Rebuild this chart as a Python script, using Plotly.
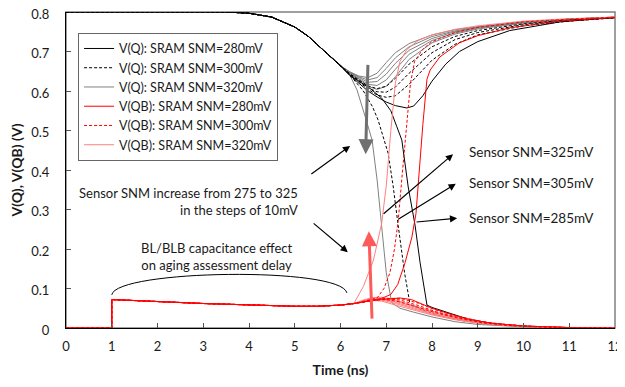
import plotly.graph_objects as go

# ---------------- data ----------------
# shared start of every V(Q) curve
Q_T_START = [0, 3.5, 4.0, 4.5, 5.0, 5.3, 5.6, 5.9, 6.0]
Q_V_START = [0.8, 0.8, 0.797, 0.787, 0.762, 0.738, 0.706, 0.675, 0.664]
# shared start of every V(QB) curve
QB_T_START = [0, 1.0, 1.0, 1.5, 2.0, 3.0, 4.0, 5.0, 5.5, 6.0, 6.3]
QB_V_START = [0, 0, 0.072, 0.070, 0.067, 0.062, 0.058, 0.055, 0.055, 0.058, 0.062]

# V(Q) recovering curves (no flip)
REC_T = [6.2, 6.4, 6.6, 6.8, 7.0, 7.2, 7.5, 8.0, 8.5, 9.0, 10, 11, 12]
Q320_REC = [
    [0.649, 0.638, 0.634, 0.645, 0.672, 0.697, 0.720, 0.742, 0.755, 0.763, 0.775, 0.782, 0.787],
    [0.648, 0.636, 0.628, 0.634, 0.657, 0.684, 0.712, 0.738, 0.752, 0.762, 0.775, 0.782, 0.787],
    [0.647, 0.634, 0.622, 0.624, 0.643, 0.670, 0.703, 0.733, 0.750, 0.761, 0.774, 0.782, 0.787],
    [0.646, 0.632, 0.617, 0.614, 0.628, 0.655, 0.693, 0.728, 0.747, 0.759, 0.773, 0.781, 0.786],
    [0.645, 0.630, 0.612, 0.604, 0.612, 0.636, 0.680, 0.722, 0.744, 0.757, 0.772, 0.781, 0.786],
]
Q300_REC = [
    [0.644, 0.628, 0.613, 0.606, 0.612, 0.632, 0.668, 0.712, 0.738, 0.753, 0.770, 0.780, 0.786],
    [0.643, 0.626, 0.608, 0.598, 0.597, 0.610, 0.645, 0.697, 0.730, 0.748, 0.768, 0.779, 0.786],
    [0.642, 0.624, 0.604, 0.590, 0.584, 0.588, 0.617, 0.678, 0.718, 0.742, 0.765, 0.777, 0.785],
]
Q280_REC_T = [6.2, 6.4, 6.6, 6.8, 7.0, 7.2, 7.45, 7.6, 7.8, 8.0, 8.3, 8.6, 9.0, 9.7, 10.8, 12]
Q280_REC_V = [0.640, 0.620, 0.600, 0.585, 0.572, 0.563, 0.557, 0.562, 0.588, 0.625, 0.668, 0.700, 0.725, 0.753, 0.775, 0.786]

# V(Q) flipping curves
Q320_FLIP_T = [6.2, 6.36, 6.54, 6.69, 6.8, 6.86, 7.0, 7.12, 7.3, 7.6, 8.0, 8.5, 9.0, 10, 11, 12]
Q320_FLIP_V = [0.641, 0.603, 0.535, 0.476, 0.375, 0.306, 0.14, 0.064, 0.05, 0.04, 0.028, 0.016, 0.009, 0.003, 0.001, 0]
Q300_FLIP_T = [6.2, 6.5, 6.7, 6.82, 7.04, 7.15, 7.26, 7.4, 7.52, 7.8, 8.2, 8.7, 9.2, 10, 11, 12]
Q300_FLIP_V = [0.641, 0.600, 0.560, 0.527, 0.443, 0.36, 0.26, 0.14, 0.06, 0.045, 0.03, 0.018, 0.01, 0.004, 0.001, 0]
Q280_FLIP_T = [6.2, 6.4, 6.64, 6.9, 7.1, 7.23, 7.34, 7.48, 7.63, 7.74, 7.89, 8.0, 8.3, 8.8, 9.3, 10, 11, 12]
Q280_FLIP_V = [0.640, 0.625, 0.607, 0.582, 0.55, 0.51, 0.476, 0.357, 0.26, 0.165, 0.058, 0.052, 0.04, 0.022, 0.012, 0.005, 0.001, 0]

# V(QB) decaying curves (no flip)
LR_T = [6.5, 6.7, 6.9, 7.2, 7.6, 8.0, 8.5, 9.0, 9.5, 10, 11, 12]
QB320_DEC = [
    [0.067, 0.070, 0.068, 0.058, 0.045, 0.033, 0.021, 0.012, 0.007, 0.004, 0.001, 0],
    [0.068, 0.072, 0.071, 0.062, 0.048, 0.035, 0.022, 0.013, 0.008, 0.004, 0.001, 0],
    [0.069, 0.074, 0.073, 0.065, 0.051, 0.037, 0.024, 0.014, 0.008, 0.004, 0.001, 0],
    [0.070, 0.076, 0.076, 0.068, 0.054, 0.040, 0.026, 0.015, 0.009, 0.005, 0.001, 0],
    [0.071, 0.077, 0.078, 0.071, 0.057, 0.043, 0.028, 0.016, 0.010, 0.005, 0.001, 0],
]
RD_T = [6.5, 6.8, 7.0, 7.3, 7.7, 8.1, 8.6, 9.1, 9.6, 10.2, 11, 12]
QB300_DEC = [
    [0.066, 0.071, 0.072, 0.066, 0.052, 0.038, 0.024, 0.013, 0.007, 0.003, 0.001, 0],
    [0.066, 0.072, 0.074, 0.071, 0.057, 0.041, 0.026, 0.015, 0.008, 0.004, 0.001, 0],
    [0.066, 0.072, 0.075, 0.075, 0.063, 0.045, 0.029, 0.016, 0.009, 0.004, 0.001, 0],
]
QB280_DEC_T = [6.5, 6.9, 7.3, 7.55, 7.8, 8.0, 8.4, 8.8, 9.3, 10, 11, 12]
QB280_DEC_V = [0.066, 0.072, 0.076, 0.072, 0.060, 0.050, 0.035, 0.022, 0.012, 0.005, 0.001, 0]

# V(QB) flipping curves
QB320_FLIP_T = [6.32, 6.5, 6.72, 6.9, 7.0, 7.1, 7.2, 7.3, 7.45, 7.7, 8.0, 8.5, 9.0, 10, 11, 12]
QB320_FLIP_V = [0.068, 0.105, 0.172, 0.265, 0.36, 0.50, 0.62, 0.675, 0.705, 0.728, 0.742, 0.756, 0.765, 0.777, 0.783, 0.787]
QB300_FLIP_T = [6.5, 6.8, 6.95, 7.08, 7.18, 7.26, 7.35, 7.45, 7.53, 7.62, 7.8, 8.0, 8.5, 9.0, 10, 11, 12]
QB300_FLIP_V = [0.068, 0.076, 0.10, 0.14, 0.20, 0.27, 0.39, 0.515, 0.62, 0.675, 0.706, 0.725, 0.748, 0.761, 0.775, 0.782, 0.787]
QB280_FLIP_T = [6.5, 6.9, 7.1, 7.25, 7.41, 7.56, 7.65, 7.72, 7.8, 7.89, 7.96, 8.17, 8.6, 9.0, 9.7, 10.8, 12]
QB280_FLIP_V = [0.066, 0.075, 0.085, 0.11, 0.165, 0.23, 0.29, 0.40, 0.515, 0.63, 0.653, 0.686, 0.722, 0.740, 0.760, 0.777, 0.786]

LEGEND_NAMES = ["V(Q): SRAM SNM=280mV", "V(Q): SRAM SNM=300mV", "V(Q): SRAM SNM=320mV",
                "V(QB): SRAM SNM=280mV", "V(QB): SRAM SNM=300mV", "V(QB): SRAM SNM=320mV"]

# ---------------- figure ----------------
FONT = "Lato, 'Open Sans', sans-serif"
STYLES = [
    dict(color="#000000", width=1, dash="solid"),
    dict(color="#000000", width=1, dash="3px,2px"),
    dict(color="#808080", width=1, dash="solid"),
    dict(color="#ff0000", width=1, dash="solid"),
    dict(color="#ff0000", width=1, dash="3px,2px"),
    dict(color="#ff8080", width=1, dash="solid"),
]

groups = [
    (Q_T_START, Q_V_START, [(Q280_FLIP_T, Q280_FLIP_V), (Q280_REC_T, Q280_REC_V)]),
    (Q_T_START, Q_V_START, [(Q300_FLIP_T, Q300_FLIP_V)] + [(REC_T, v) for v in Q300_REC]),
    (Q_T_START, Q_V_START, [(Q320_FLIP_T, Q320_FLIP_V)] + [(REC_T, v) for v in Q320_REC]),
    (QB_T_START, QB_V_START, [(QB280_FLIP_T, QB280_FLIP_V), (QB280_DEC_T, QB280_DEC_V)]),
    (QB_T_START, QB_V_START, [(QB300_FLIP_T, QB300_FLIP_V)] + [(RD_T, v) for v in QB300_DEC]),
    (QB_T_START, QB_V_START, [(QB320_FLIP_T, QB320_FLIP_V)] + [(LR_T, v) for v in QB320_DEC]),
]
# drawing order: light styles underneath, strong styles on top
DRAW_ORDER = [2, 1, 0, 5, 4, 3]

fig = go.Figure()
for gi in DRAW_ORDER:
    t0, v0, tails = groups[gi]
    for k, (tt, vv) in enumerate(tails):
        fig.add_trace(go.Scatter(
            x=list(t0) + list(tt), y=list(v0) + list(vv), mode="lines",
            line=STYLES[gi], name=LEGEND_NAMES[gi], legendgroup=LEGEND_NAMES[gi],
            legendrank=gi + 1, showlegend=(k == 0), cliponaxis=False, hoverinfo="skip"))

# plot-area frame (grey top/right)
fig.add_shape(type="rect", xref="paper", yref="paper", x0=0, y0=0, x1=1, y1=1,
              line=dict(color="#808080", width=1.5), layer="below")
# brace over the BL/BLB region
fig.add_shape(type="path", xref="x", yref="y",
              path="M 1.0,0.084 C 1.1,0.148 6.0,0.156 6.14,0.089",
              line=dict(color="#000000", width=1))

ann = []
txt = dict(size=13, color="#1a1a1a", family=FONT)
# thick arrows
ann.append(dict(x=6.55, y=0.44, ax=6.6, ay=0.67, xref="x", yref="y", axref="x", ayref="y",
                showarrow=True, arrowhead=2, arrowsize=1, arrowwidth=3, arrowcolor="#707070", text=""))
ann.append(dict(x=6.62, y=0.245, ax=6.69, ay=0.02, xref="x", yref="y", axref="x", ayref="y",
                showarrow=True, arrowhead=2, arrowsize=1, arrowwidth=3, arrowcolor="#ff5a5a", text=""))
# thin black arrows
for (tx, ty, hx, hy) in [(5.33, 0.387, 6.21, 0.461), (5.38, 0.268, 6.16, 0.192),
                         (6.91, 0.286, 8.46, 0.44), (7.23, 0.273, 8.52, 0.365),
                         (7.63, 0.268, 8.55, 0.278)]:
    ann.append(dict(x=hx, y=hy, ax=tx, ay=ty, xref="x", yref="y", axref="x", ayref="y",
                    showarrow=True, arrowhead=2, arrowsize=1.2, arrowwidth=1.2,
                    arrowcolor="#000000", text=""))
for (s, yy) in [("Sensor SNM=325mV", 0.446), ("Sensor SNM=305mV", 0.367), ("Sensor SNM=285mV", 0.278)]:
    ann.append(dict(x=8.77, y=yy, xref="x", yref="y", text=s, showarrow=False,
                    xanchor="left", yanchor="middle", font=dict(size=13.5, color="#1a1a1a", family=FONT)))
ann.append(dict(x=5.11, y=0.3215, xref="x", yref="y",
                text="Sensor SNM increase from 275 to 325<br>in the steps of 10mV",
                showarrow=False, xanchor="right", yanchor="middle", align="right", font=txt))
ann.append(dict(x=3.3, y=0.182, xref="x", yref="y",
                text="BL/BLB capacitance effect<br>on aging assessment delay",
                showarrow=False, xanchor="center", yanchor="middle", align="center", font=txt))

# the page body adds an 8px margin, so the figure is smaller and margins shifted
fig.update_layout(
    width=617, height=371,
    margin=dict(l=58, r=10, t=4, b=51, autoexpand=False),
    paper_bgcolor="white", plot_bgcolor="white",
    font=dict(family=FONT, size=13, color="#1a1a1a"),
    annotations=ann,
    legend=dict(x=0.022, y=0.934, xanchor="left", yanchor="top",
                bgcolor="white", bordercolor="#666666", borderwidth=1,
                font=dict(size=12.5, family=FONT, color="#1a1a1a"),
                tracegroupgap=0, itemwidth=30),
    xaxis=dict(range=[0, 12], dtick=1, tick0=0, showgrid=False, zeroline=False,
               showline=True, linecolor="#000000", linewidth=1, automargin=False,
               ticks="inside", ticklen=5, tickcolor="#555555", ticklabeloverflow="allow",
               tickfont=dict(size=13), ticklabelstandoff=6,
               title=dict(text="<b>Time (ns)</b>", font=dict(size=14), standoff=12)),
    yaxis=dict(range=[0, 0.8], dtick=0.1, tick0=0, showgrid=False, zeroline=False,
               showline=True, linecolor="#000000", linewidth=1, automargin=False,
               ticks="inside", ticklen=5, tickcolor="#555555", ticklabeloverflow="allow",
               tickfont=dict(size=13), ticklabelstandoff=13, ticklabelshift=2,
               title=dict(text="<b>V(Q), V(QB) (V)</b>", font=dict(size=14), standoff=8)),
)

fig.write_html("out.html")
